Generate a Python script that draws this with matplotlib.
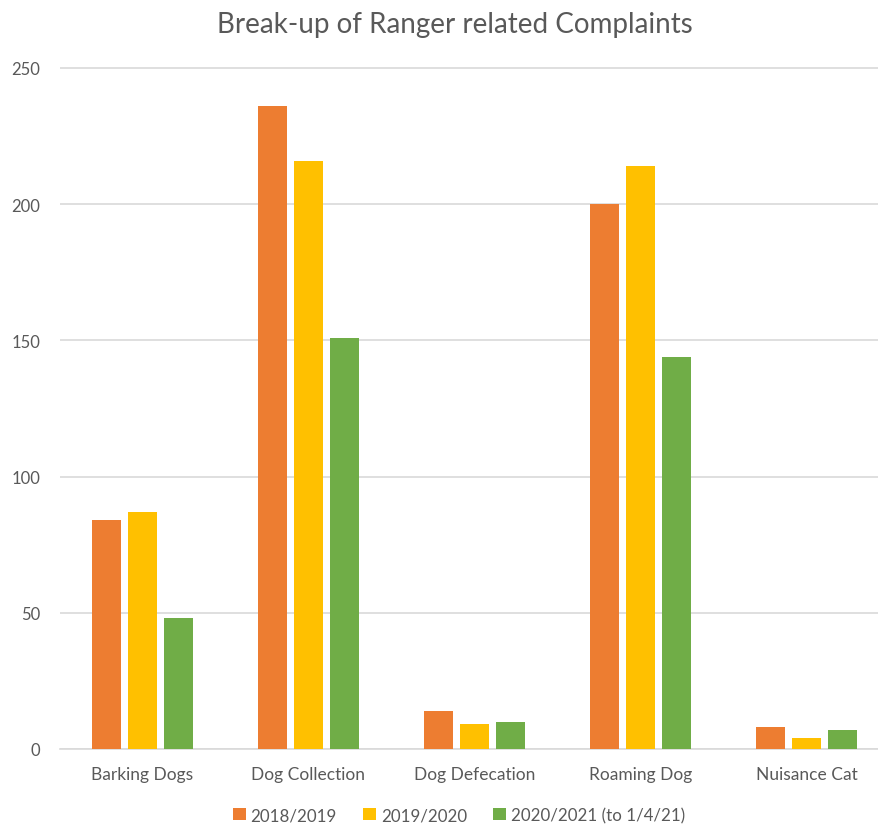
import matplotlib
matplotlib.use("Agg")
import matplotlib.pyplot as plt
import numpy as np

plt.rcParams['font.family'] = ['Lato', 'DejaVu Sans']

categories = ["Barking Dogs", "Dog Collection", "Dog Defecation", "Roaming Dog", "Nuisance Cat"]
series_names = ["2018/2019", "2019/2020", "2020/2021 (to 1/4/21)"]
y2018 = [84, 236, 14, 200, 8]
y2019 = [87, 216, 9, 214, 4]
y2020 = [48, 151, 10, 144, 7]
colours = ["#ED7D31", "#FFC000", "#70AD47"]

grey = "#595959"

fig = plt.figure(figsize=(8.79, 8.28), dpi=100)
ax = fig.add_axes([60/879, 78/828, 819/879, 686.5/828])

x = np.arange(len(categories))
w = 0.175
step = 0.217
for i, (vals, name) in enumerate(zip([y2018, y2019, y2020], series_names)):
    ax.bar(x + (i - 1) * step, vals, width=w, color=colours[i], label=name, zorder=3)

ax.set_xlim(-0.497, 4.437)
ax.set_ylim(0, 252)
ax.set_yticks([0, 50, 100, 150, 200, 250])
ax.set_xticks(x)
ax.set_xticklabels(categories)
ax.yaxis.grid(True, color="#D9D9D9", linewidth=1.2, zorder=0)
for s in ["top", "right", "left"]:
    ax.spines[s].set_visible(False)
ax.spines["bottom"].set_color("#D9D9D9")
ax.spines["bottom"].set_linewidth(1.2)
ax.tick_params(axis="both", length=0, colors=grey)
ax.tick_params(axis="x", pad=12, labelsize=12.5)
ax.tick_params(axis="y", pad=14, labelsize=12)

fig.text(455/879, 1 - 25/828, "Break-up of Ranger related Complaints", ha="center", va="center",
         fontsize=20, color=grey)

fig.legend(loc="center", bbox_to_anchor=(459/879, 1 - 816/828), ncol=3, frameon=False,
           fontsize=12.2, labelcolor=grey, handlelength=0.75, handleheight=0.75,
           columnspacing=1.55, handletextpad=0.3)

fig.savefig("out.png", dpi=100)
